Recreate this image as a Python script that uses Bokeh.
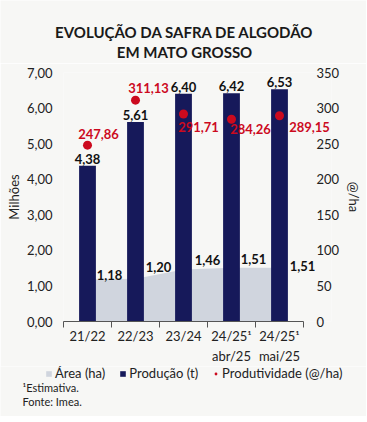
from bokeh.plotting import figure
from bokeh.layouts import column
from bokeh.models import (Range1d, LinearAxis, FixedTicker, ColumnDataSource, Legend,
                          LegendItem, LabelSet, Label)
from bokeh.core.properties import value
from bokeh.embed import file_html
from bokeh.resources import INLINE

# ---- data ----
categories = ["21/22", "22/23", "23/24", "24/25¹\nabr/25", "24/25¹\nmai/25"]
area_mi_ha = [1.18, 1.20, 1.46, 1.51, 1.51]
producao_mi_t = [4.38, 5.61, 6.40, 6.42, 6.53]
produtividade = [247.86, 311.13, 291.71, 284.26, 289.15]
left_ticks = [0, 1, 2, 3, 4, 5, 6, 7]
right_ticks = [0, 50, 100, 150, 200, 250, 300, 350]
title_lines = ["EVOLUÇÃO DA SAFRA DE ALGODÃO", "EM MATO GROSSO"]
notes = ["¹Estimativa.", "Fonte: Imea."]

# ---- styling (label nudges in screen px) ----
area_lbl_dx = [22, 23, 24, 22, 23]
area_lbl_dy = [5, 12, 10, 9, 2]
prod_lbl_dx = [11, 13, 15, 19, 30]
prod_lbl_dy = [11, 12, -13, -10, -11]

BG = "#f7f7f5"
NAVY = "#16195a"
GRAY = "#d0d5de"
RED = "#cc0a1e"
TXT = "#222222"
FONT = "Lato"
W = 366
RIGHT_PAD = 28 / 48  # extra x-room (category units) for labels right of the last bar


def br(v, d=2):
    return f"{v:.{d}f}".replace(".", ",")


def no_align(f):
    try:
        f.frame_align = False
    except Exception:
        pass


def blank_fig(h):
    f = figure(width=W, height=h, x_range=Range1d(0, 1), y_range=Range1d(0, 1),
               output_backend="svg", toolbar_location=None, min_border=0,
               x_axis_location=None, y_axis_location=None,
               background_fill_color=BG, border_fill_color=BG, outline_line_color=None)
    f.grid.visible = False
    no_align(f)
    return f


xs = [i + 0.5 for i in range(len(categories))]
src = ColumnDataSource(dict(
    x=xs,
    area=area_mi_ha,
    prod=producao_mi_t,
    prodt=produtividade,
    area_txt=[br(v) for v in area_mi_ha],
    prod_txt=[br(v) for v in producao_mi_t],
    prodt_txt=[br(v) for v in produtividade],
    adx=area_lbl_dx, ady=area_lbl_dy,
    pdx=prod_lbl_dx, pdy=prod_lbl_dy,
))

# ---------------- header ----------------
head = blank_fig(63)
for i, t in enumerate(title_lines):
    head.add_layout(Label(x=184, y=32 - 20 * i, x_units="screen", y_units="screen", text=t,
                          text_align="center", text_baseline="middle", text_font=FONT,
                          text_font_size="15px", text_font_style="bold",
                          text_color="#1a1a1a"))

# ---------------- main chart ----------------
p = figure(width=W, height=303, x_range=Range1d(0, len(categories) + RIGHT_PAD),
           y_range=Range1d(0, 7), output_backend="svg", toolbar_location=None,
           min_border_left=63, min_border_right=35, min_border_top=9, min_border_bottom=45,
           background_fill_color=BG, border_fill_color=BG, outline_line_color=None)
p.grid.visible = False
no_align(p)
p.extra_y_ranges = {"prod": Range1d(0, 350)}

ya = p.yaxis[0]
ya.ticker = FixedTicker(ticks=left_ticks)
ya.major_label_overrides = {t: br(t) for t in left_ticks}
ya.axis_line_color = None
ya.major_tick_line_color = None
ya.minor_tick_line_color = None
ya.major_tick_out = 0
ya.major_label_standoff = 11
ya.axis_label = "Milhões"
ya.axis_label_standoff = 2

ra = LinearAxis(y_range_name="prod", ticker=FixedTicker(ticks=right_ticks), axis_label="@/ha")
ra.axis_line_color = None
ra.major_tick_line_color = None
ra.minor_tick_line_color = None
ra.major_tick_out = 0
ra.major_label_standoff = -15
ra.axis_label_standoff = 4
p.add_layout(ra, "right")

for a in (ya, ra):
    a.major_label_text_font = FONT
    a.major_label_text_font_size = "13px"
    a.major_label_text_color = TXT
    a.axis_label_text_font = FONT
    a.axis_label_text_font_size = "13px"
    a.axis_label_text_font_style = "normal"
    a.axis_label_text_color = TXT

xa = p.xaxis[0]
xa.bounds = (0, len(categories))
xa.ticker = FixedTicker(ticks=xs, minor_ticks=list(range(len(categories) + 1)))
xa.major_label_overrides = {x: c for x, c in zip(xs, categories)}
xa.major_tick_line_color = None
xa.major_tick_out = 0
xa.minor_tick_in = 0
xa.minor_tick_out = 6
xa.minor_tick_line_color = "#555555"
xa.axis_line_color = "#555555"
xa.major_label_standoff = 0
xa.major_label_text_font = FONT
xa.major_label_text_font_size = "13px"
xa.major_label_text_color = TXT
xa.major_label_text_line_height = 1.25

r_area = p.varea(x="x", y1=0, y2="area", source=src, fill_color=GRAY)
r_bar = p.vbar(x="x", top="prod", width=0.35, source=src, fill_color=NAVY, line_color=None)
r_dot = p.scatter(x="x", y="prodt", source=src, y_range_name="prod", size=9,
                  fill_color=RED, line_color=None)

common = dict(text_font=value(FONT), text_font_size="13px", text_font_style="bold")
p.add_layout(LabelSet(x="x", y="prod", text="prod_txt", source=src, text_align="center",
                      text_baseline="bottom", y_offset=2, text_color="#111111", **common))
p.add_layout(LabelSet(x="x", y="area", text="area_txt", source=src, text_align="center",
                      text_baseline="middle", x_offset="adx", y_offset="ady",
                      text_color="#111111", **common))
p.add_layout(LabelSet(x="x", y="prodt", text="prodt_txt", source=src, y_range_name="prod",
                      text_align="center", text_baseline="middle", x_offset="pdx",
                      y_offset="pdy", text_color=RED, **common))

# ---------------- footer: legend + notes ----------------
FH = 50
foot = blank_fig(FH)
# legend swatches only (kept outside the visible range)
la = foot.varea(x=[-5, -4], y1=[-5, -5], y2=[-4, -4], fill_color=GRAY)
lb = foot.vbar(x=[-5], top=[-4], bottom=-5, width=0.5, fill_color=NAVY, line_color=None)
lc = foot.scatter(x=[-5], y=[-5], size=9, fill_color=RED, line_color=None)
legend = Legend(items=[LegendItem(label="Área (ha)", renderers=[la]),
                       LegendItem(label="Produção (t)", renderers=[lb]),
                       LegendItem(label="Produtividade (@/ha)", renderers=[lc])],
                orientation="horizontal", location=(45, FH - 15),
                label_text_font=FONT, label_text_font_size="13px", label_text_color=TXT,
                glyph_width=7, glyph_height=7, label_standoff=3, spacing=14,
                padding=0, margin=0, background_fill_alpha=0, border_line_color=None,
                label_height=14)
foot.add_layout(legend)
for i, t in enumerate(notes):
    foot.add_layout(Label(x=22, y=FH - 21 - 14 * i, x_units="screen", y_units="screen",
                          text=t, text_baseline="middle", text_font=FONT,
                          text_font_size="11px", text_color=TXT))

layout = column(head, p, foot, spacing=0)
html = file_html(layout, INLINE)
html = html.replace("<body>", '<body style="background-color:#f7f7f5;">', 1)
open("out.html", "w").write(html)
